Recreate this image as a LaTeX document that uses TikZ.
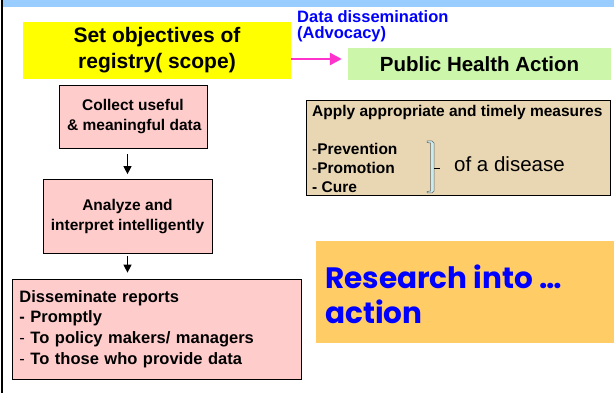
\documentclass[tikz,border=0pt]{standalone}
\usepackage{fontspec}
\setmainfont{Liberation Sans}
\newfontfamily\gothicfont{Poppins}
\usepackage{xcolor}
\usetikzlibrary{arrows}
\usetikzlibrary{arrows.meta}
\usetikzlibrary{shapes}

\definecolor{bandblue}{RGB}{153,204,255}
\definecolor{objyellow}{RGB}{255,255,0}
\definecolor{arrowpink}{RGB}{255,51,204}
\definecolor{phagreen}{RGB}{204,247,170}
\definecolor{steppink}{RGB}{255,204,204}
\definecolor{measuretan}{RGB}{233,215,180}
\definecolor{researchorange}{RGB}{255,204,102}
\definecolor{textblue}{RGB}{0,0,255}
\definecolor{bracketblue}{RGB}{200,235,240}

\begin{document}
\begin{tikzpicture}[x=1pt,y=-1pt, every node/.style={inner sep=0pt},
    stepbox/.style={rectangle, draw=black, line width=0.7pt, fill=steppink, align=center,
        font=\bfseries\fontsize{15.5}{19.5}\selectfont},
    stepto/.style={-{Triangle[length=8pt,width=8pt]}, line width=1.3pt}]

    \useasboundingbox (0,0) rectangle (614,393);

    %===========================
    % Frame
    %===========================
    \fill[bandblue] (3,0) rectangle (614,7);
    \draw[line width=2pt] (2,0) -- (2,393);


    %===========================
    % Objectives and action
    %===========================
    \draw node (obj) at (157,50.5) [fill=objyellow, minimum width=268pt, minimum height=57pt, align=center,
        font=\bfseries\fontsize{21}{26}\selectfont]{Set objectives of\\registry( scope)};

    \draw node (pha) at (479.5,64) [fill=phagreen, minimum width=263pt, minimum height=32pt,
        font=\bfseries\fontsize{20.5}{24}\selectfont]{Public Health Action};
    \draw[-{Triangle[length=12pt,width=12pt]}, line width=2.8pt, arrowpink, shorten >=6pt]
        ([yshift=-8.5pt]obj.east) to ([yshift=5pt]pha.west);

    \draw node (adv) at (297,26) [anchor=west, align=left, text=textblue,
        font=\bfseries\fontsize{16.5}{16.5}\selectfont]{Data dissemination\\(Advocacy)};


    %===========================
    % Steps
    %===========================
    \draw node (collect) at (133,116.5) [stepbox, minimum width=148pt, minimum height=63pt]{Collect useful\\\,\& meaningful data};

    \draw node (analyze) at (127.5,216.5) [stepbox, minimum width=169pt, minimum height=74pt]{Analyze and\\interpret intelligently};
    \draw[stepto, shorten <=6pt, shorten >=5pt] (collect.south -| analyze.north) to (analyze.north);

    \draw node (report) at (156.5,329) [stepbox, align=left, inner xsep=7.5pt, text width=274pt, minimum height=100pt,
        font=\bfseries\fontsize{16.5}{20.7}\selectfont]{Disseminate reports\\- Promptly\\{\mdseries -} To policy makers/ managers\\{\mdseries -} To those who provide data};
    \draw[stepto, shorten <=2pt, shorten >=6pt] (analyze.south) to (analyze.south |- report.north);


    %===========================
    % Measures
    %===========================
    \draw node (measures) at (458,147.5) [fill=measuretan, draw=black, line width=0.8pt, minimum width=304pt, minimum height=95pt]{};
    \node (apply) at (312,112) [anchor=west, font=\bfseries\fontsize{15.5}{18}\selectfont]{Apply appropriate and timely measures};
    \node (kinds) at (312,168) [anchor=west, align=left, font=\bfseries\fontsize{15.5}{18.7}\selectfont]{{\mdseries -}Prevention\\{\mdseries -}Promotion\\- Cure};
    \draw[draw=black!60, fill=bracketblue, line width=0.5pt] (427,141) -- (432,141) -- (434,143) -- (434,191) -- (432,193) -- (427,193)
        -- (427,191.5) -- (430.5,191) -- (430.5,143) -- (427,142.5) -- cycle;
    \draw[line width=0.6pt] (434,168) -- (440,168);
    \node (disease) at (454,164) [anchor=west, font=\fontsize{20.5}{24}\selectfont]{of a disease};


    %===========================
    % Research into action
    %===========================
    \draw node (research) at (465,292) [fill=researchorange, minimum width=298pt, minimum height=102pt]{};
    \node (slogan) at (325,294) [anchor=west, align=left, text=textblue,
        font=\gothicfont\bfseries\fontsize{29.5}{35}\selectfont]{Research into …\\action};
\end{tikzpicture}
\end{document}
